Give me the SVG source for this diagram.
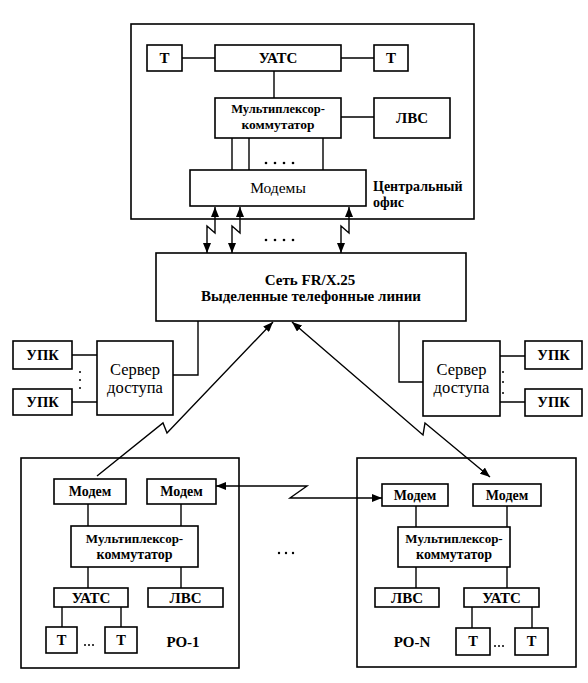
<svg xmlns="http://www.w3.org/2000/svg" width="588" height="683" viewBox="0 0 588 683">
<style>
  .box { fill: #fff; stroke: #000; stroke-width: 1.6; }
  .frame { fill: none; stroke: #000; stroke-width: 1.6; }
  .ln { fill: none; stroke: #000; stroke-width: 1.4; }
  text { font-family: "Liberation Serif", "Times New Roman", "DejaVu Serif", serif; fill: #000; text-anchor: middle; }
  .b { font-weight: bold; }
  .st { text-anchor: start; }
  .net { font-size: 15px; }
  .cap { font-size: 15px; }
  .lbl { font-size: 14.5px; }
  .co { font-size: 14px; }
  .mux1 { font-size: 12.5px; }
  .mux2 { font-size: 13.5px; }
  .rmux1 { font-size: 13px; }
  .rmux2 { font-size: 14px; }
  .mdm { font-size: 14px; }
  .srv { font-size: 16.5px; }
  .mods { font-size: 15.5px; }
  .dot { fill: #000; }
</style>
<defs>
  <marker id="ah" viewBox="0 0 10 8" refX="10" refY="4" markerWidth="10" markerHeight="8" markerUnits="userSpaceOnUse" orient="auto-start-reverse">
    <path d="M0,0 L10,4 L0,8 z" fill="#000"/>
  </marker>
</defs>
<rect width="588" height="683" fill="#fff"/>

<g id="central-office">
  <rect class="frame" x="131" y="24" width="343" height="195"/>
  <text class="b co st" x="373" y="191">Центральный</text>
  <text class="b co st" x="373" y="207">офис</text>
</g>
<g id="co-t1"><rect class="box" x="147" y="45" width="35" height="26"/><text class="b cap" x="164.5" y="63">Т</text></g>
<g id="co-uats"><rect class="box" x="215" y="45" width="126" height="26"/><text class="b cap" x="278" y="63">УАТС</text></g>
<g id="co-t2"><rect class="box" x="374" y="45" width="34" height="26"/><text class="b cap" x="391" y="63">Т</text></g>
<g id="co-mux"><rect class="box" x="215" y="98" width="126" height="40"/><text class="b mux1" x="278" y="113">Мультиплексор-</text><text class="b mux2" x="278" y="129">коммутатор</text></g>
<g id="co-lan"><rect class="box" x="374" y="98" width="76" height="40"/><text class="b cap" x="412" y="123">ЛВС</text></g>
<g id="co-modems"><rect class="box" x="190" y="170" width="176" height="36"/><text class="mods" x="278" y="193">Модемы</text></g>

<g id="network"><rect class="box" x="156" y="253" width="310" height="68"/>
  <text class="b net" x="310" y="285">Сеть FR/X.25</text>
  <text class="b net" x="311" y="301">Выделенные телефонные линии</text>
</g>

<g id="srv-left"><rect class="box" x="97" y="341" width="76" height="74"/><text class="srv" x="135" y="375">Сервер</text><text class="srv" x="135" y="393">доступа</text></g>
<g id="upk-l1"><rect class="box" x="13" y="341" width="59" height="28"/><text class="b lbl" x="42.5" y="360">УПК</text></g>
<g id="upk-l2"><rect class="box" x="13" y="389" width="59" height="26"/><text class="b lbl" x="42.5" y="407">УПК</text></g>

<g id="srv-right"><rect class="box" x="423" y="341" width="77" height="75"/><text class="srv" x="461.5" y="375">Сервер</text><text class="srv" x="461.5" y="393">доступа</text></g>
<g id="upk-r1"><rect class="box" x="525" y="341" width="57" height="28"/><text class="b lbl" x="553.5" y="360">УПК</text></g>
<g id="upk-r2"><rect class="box" x="525" y="389" width="57" height="27"/><text class="b lbl" x="553.5" y="407">УПК</text></g>

<g id="ro-1">
  <rect class="frame" x="21" y="458" width="218" height="210"/>
  <text class="b cap" x="183" y="647">РО-1</text>
</g>
<g id="ro1-modem1"><rect class="box" x="54" y="479" width="72" height="25"/><text class="b mdm" x="90" y="496">Модем</text></g>
<g id="ro1-modem2"><rect class="box" x="147" y="479" width="69" height="25"/><text class="b mdm" x="181.5" y="496">Модем</text></g>
<g id="ro1-mux"><rect class="box" x="71" y="526" width="127" height="41"/><text class="b rmux1" x="134.5" y="543">Мультиплексор-</text><text class="b rmux2" x="134.5" y="559">коммутатор</text></g>
<g id="ro1-uats"><rect class="box" x="54" y="588" width="74" height="19"/><text class="b cap" x="91" y="603">УАТС</text></g>
<g id="ro1-lan"><rect class="box" x="148" y="588" width="75" height="19"/><text class="b cap" x="185.5" y="603">ЛВС</text></g>
<g id="ro1-t1"><rect class="box" x="46" y="627" width="31" height="26"/><text class="b lbl" x="61.5" y="645">Т</text></g>
<g id="ro1-t2"><rect class="box" x="105" y="627" width="32" height="26"/><text class="b lbl" x="121" y="645">Т</text></g>

<g id="ro-n">
  <rect class="frame" x="357" y="458" width="219" height="209"/>
  <text class="b cap" x="412" y="647">РО-N</text>
</g>
<g id="ron-modem1"><rect class="box" x="382" y="484" width="66" height="22"/><text class="b mdm" x="415" y="500">Модем</text></g>
<g id="ron-modem2"><rect class="box" x="473" y="484" width="68" height="22"/><text class="b mdm" x="507" y="500">Модем</text></g>
<g id="ron-mux"><rect class="box" x="398" y="527" width="112" height="40"/><text class="b rmux1" x="454" y="543">Мультиплексор-</text><text class="b rmux2" x="454" y="559">коммутатор</text></g>
<g id="ron-lan"><rect class="box" x="375" y="588" width="64" height="19"/><text class="b cap" x="407" y="603">ЛВС</text></g>
<g id="ron-uats"><rect class="box" x="464" y="588" width="75" height="19"/><text class="b cap" x="501.5" y="603">УАТС</text></g>
<g id="ron-t1"><rect class="box" x="456" y="628" width="34" height="27"/><text class="b lbl" x="473" y="646">Т</text></g>
<g id="ron-t2"><rect class="box" x="515" y="628" width="33" height="27"/><text class="b lbl" x="531.5" y="646">Т</text></g>

<g id="connectors">
  <path class="ln" d="M182,58 H215 M341,58 H374 M274,71 V98 M341,117 H374 M232,138 V170 M249,138 V170 M323,138 V170"/>
  <path class="ln" d="M215,207 L215,233 L207,226 L207,253" marker-start="url(#ah)" marker-end="url(#ah)"/>
  <path class="ln" d="M240,207 L240,233 L232,226 L232,253" marker-start="url(#ah)" marker-end="url(#ah)"/>
  <path class="ln" d="M349,207 L349,233 L341,226 L341,253" marker-start="url(#ah)" marker-end="url(#ah)"/>
  <path class="ln" d="M173,375 H198 V321 M399,321 V382 H423"/>
  <path class="ln" d="M72,355 H97 M72,402 H97 M500,356 H525 M500,402 H525"/>
  <path class="ln" d="M97,476 L163,423 L167,433 L273,322" marker-end="url(#ah)"/>
  <path class="ln" d="M292,322 L423,435 L425,423 L490,477" marker-start="url(#ah)" marker-end="url(#ah)"/>
  <path class="ln" d="M216,486 L307,486 L290,498 L382,498" marker-start="url(#ah)" marker-end="url(#ah)"/>
  <path class="ln" d="M88,504 V526 M181,504 V526 M88,567 V588 M181,567 V588 M62,607 V627 M121,607 V627"/>
  <path class="ln" d="M416,506 V527 M507,506 V527 M416,567 V588 M507,567 V588 M472,607 V628 M532,607 V628"/>
</g>

<g id="dots">
  <circle class="dot" cx="266" cy="163" r="1.3"/><circle class="dot" cx="275" cy="163" r="1.3"/><circle class="dot" cx="284" cy="163" r="1.3"/><circle class="dot" cx="293" cy="163" r="1.3"/>
  <circle class="dot" cx="266" cy="240" r="1.3"/><circle class="dot" cx="275" cy="240" r="1.3"/><circle class="dot" cx="284" cy="240" r="1.3"/><circle class="dot" cx="293" cy="240" r="1.3"/>
  <circle class="dot" cx="80" cy="372" r="1"/><circle class="dot" cx="80" cy="380" r="1"/><circle class="dot" cx="80" cy="388" r="1"/>
  <circle class="dot" cx="503" cy="372" r="1"/><circle class="dot" cx="503" cy="382" r="1"/><circle class="dot" cx="503" cy="393" r="1"/>
  <circle class="dot" cx="279" cy="553" r="1.2"/><circle class="dot" cx="286" cy="553" r="1.2"/><circle class="dot" cx="293" cy="553" r="1.2"/>
  <circle class="dot" cx="85" cy="645" r="1"/><circle class="dot" cx="89" cy="645" r="1"/><circle class="dot" cx="93" cy="645" r="1"/>
  <circle class="dot" cx="495" cy="646" r="1"/><circle class="dot" cx="499" cy="646" r="1"/><circle class="dot" cx="503" cy="646" r="1"/>
</g>
</svg>
